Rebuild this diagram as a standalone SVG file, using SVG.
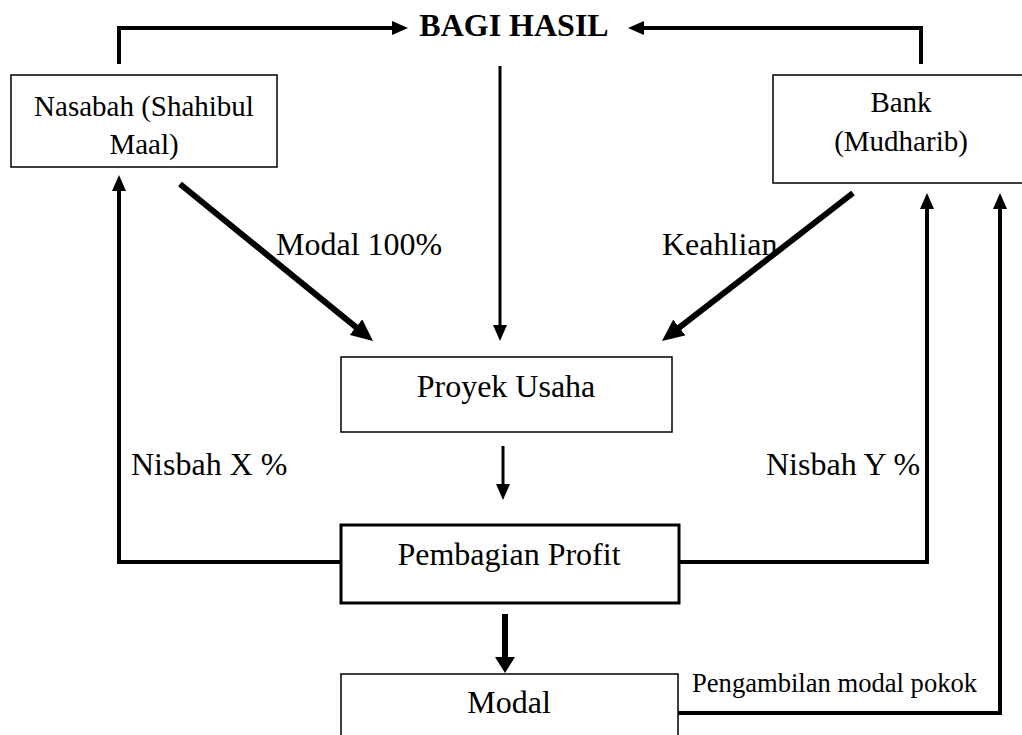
<svg xmlns="http://www.w3.org/2000/svg" width="1022" height="735" viewBox="0 0 1022 735">
<style>
text{font-family:"Liberation Serif","Times New Roman",serif;fill:#000}
.lbl{font-size:32px}
.box{font-size:29px}
.node rect{fill:#fff;stroke:#000;stroke-width:1.5}
.conn{fill:none;stroke:#000}
</style>
<defs>
<marker id="aS" viewBox="0 0 16 14" markerWidth="16" markerHeight="14" refX="4" refY="7" orient="auto" markerUnits="userSpaceOnUse"><path d="M0,0 L16,7 L0,14 z" fill="#000"/></marker>
<marker id="aL" viewBox="0 0 22 20" markerWidth="22" markerHeight="20" refX="6" refY="10" orient="auto" markerUnits="userSpaceOnUse"><path d="M0,0 L22,10 L0,20 z" fill="#000"/></marker>
<marker id="aM" viewBox="0 0 16 20" markerWidth="16" markerHeight="20" refX="4" refY="10" orient="auto" markerUnits="userSpaceOnUse"><path d="M0,0 L16,10 L0,20 z" fill="#000"/></marker>
</defs>
<rect width="1022" height="735" fill="#fff"/>
<g id="connectors">
<path class="conn" stroke-width="4" d="M119,64 V28 H396" marker-end="url(#aS)"/>
<path class="conn" stroke-width="4" d="M921,64 V28 H640" marker-end="url(#aS)"/>
<path class="conn" stroke-width="3" d="M500,66 V329" marker-end="url(#aS)"/>
<path class="conn" stroke-width="6" d="M180,184 L360.6,330.9" marker-end="url(#aL)"/>
<path class="conn" stroke-width="6" d="M853,193 L674.6,331.2" marker-end="url(#aL)"/>
<path class="conn" stroke-width="3" d="M503,446 V488" marker-end="url(#aS)"/>
<path class="conn" stroke-width="4" d="M341,562 H119 V187" marker-end="url(#aS)"/>
<path class="conn" stroke-width="4" d="M679,562 H927 V205" marker-end="url(#aS)"/>
<path class="conn" stroke-width="6" d="M505,614 V661" marker-end="url(#aM)"/>
<path class="conn" stroke-width="4" d="M678,713 H1000 V205" marker-end="url(#aS)"/>
</g>
<g id="bagi-hasil"><text x="514" y="36" font-size="32" font-weight="bold" text-anchor="middle">BAGI HASIL</text></g>
<g id="nasabah" class="node">
<rect x="11" y="75" width="266" height="92"/>
<text class="box" x="144" y="116" text-anchor="middle">Nasabah (Shahibul</text>
<text class="box" x="144" y="154" text-anchor="middle">Maal)</text>
</g>
<g id="bank" class="node">
<rect x="773" y="75" width="262" height="108"/>
<text class="box" x="901" y="112" text-anchor="middle">Bank</text>
<text class="box" x="901" y="151" text-anchor="middle">(Mudharib)</text>
</g>
<g id="proyek" class="node">
<rect x="341" y="357" width="331" height="75"/>
<text class="lbl" x="506" y="397" text-anchor="middle">Proyek Usaha</text>
</g>
<g id="pembagian" class="node">
<rect x="341" y="525" width="338" height="78" style="stroke-width:3"/>
<text class="lbl" x="509" y="565" text-anchor="middle">Pembagian Profit</text>
</g>
<g id="modal" class="node">
<rect x="341" y="674" width="337" height="80"/>
<text class="lbl" x="509" y="713" text-anchor="middle">Modal</text>
</g>
<g id="labels">
<text class="lbl" x="276" y="255">Modal 100%</text>
<text class="lbl" x="662" y="255">Keahlian</text>
<text class="lbl" x="131" y="475">Nisbah X %</text>
<text class="lbl" x="766" y="475">Nisbah Y %</text>
<text x="692" y="692" font-size="26.6">Pengambilan modal pokok</text>
</g>
</svg>
